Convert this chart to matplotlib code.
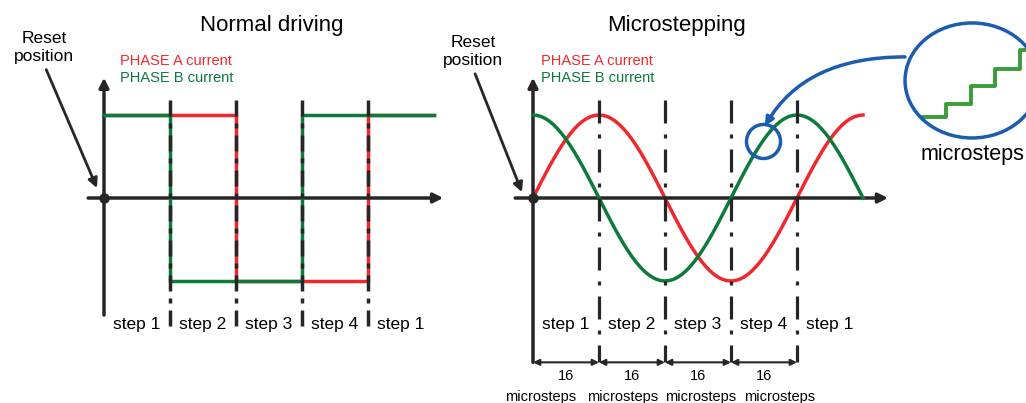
import numpy as np
import matplotlib
matplotlib.use("Agg")
import matplotlib.pyplot as plt
from matplotlib.patches import Ellipse

# -----------------------------
# Data
# -----------------------------
step_labels = ["step 1", "step 2", "step 3", "step 4", "step 1"]

# full-step driving: current level of each phase in each step
phase_a_full = [1, 1, -1, -1, 1]
phase_b_full = [1, -1, -1, 1, 1]

# one quarter wave of the microstep table (16 microsteps per step)
quarter_wave = [0.0, 0.098, 0.195, 0.290, 0.383, 0.471, 0.556, 0.634, 0.707,
                0.773, 0.831, 0.882, 0.924, 0.957, 0.981, 0.995, 1.0]
microsteps_per_step = 16
# sign and direction of each step's quarter wave
phase_a_segments = [(1, "rise"), (1, "fall"), (-1, "rise"), (-1, "fall"), (1, "rise")]
phase_b_segments = [(1, "fall"), (-1, "rise"), (-1, "fall"), (1, "rise"), (1, "fall")]

micro_count_labels = ["16", "16", "16", "16"]
micro_word_offsets = [-0.39, -0.14, 0.045, 0.24]   # text shifted as in the picture

# magnified staircase inside the zoom circle
zoom_stair_levels = [0.976, 1.133, 1.35, 1.554, 1.783, 2.01]

# -----------------------------
# Style
# -----------------------------
RED = "#f0282d"
GREEN = "#0b7a3b"
STAIR_GREEN = "#3a9c3a"
BLUE = "#1a5cb0"
AXC = "#262626"

plt.rcParams["font.family"] = ["Liberation Sans", "DejaVu Sans"]
plt.rcParams["lines.scale_dashes"] = False

W, H = 1026, 403
PX, PY = 66.0, 83.0          # pixels per step / per unit of current
OY = 198                     # x-axis row (pixels from top)

fig = plt.figure(figsize=(W / 100, H / 100), dpi=100)


def panel(ox):
    ax = fig.add_axes([0, 0, 1, 1])
    ax.set_xlim(-ox / PX, (W - ox) / PX)
    ax.set_ylim(-(H - OY) / PY, OY / PY)
    ax.axis("off")
    ax.patch.set_alpha(0)
    return ax


def arrow(ax, start, end, lw=2.5, color=AXC, style="-|>", ms=14, **kw):
    ax.annotate("", xy=end, xytext=start,
                arrowprops=dict(arrowstyle=style, color=color, lw=lw,
                                shrinkA=0, shrinkB=0, mutation_scale=ms, **kw))


def px(v):
    return v * 0.72


def build(segments):
    q = np.array(quarter_wave)
    out = []
    for i, (sign, kind) in enumerate(segments):
        seg = sign * (q if kind == "rise" else q[::-1])
        out.extend(seg if i == 0 else seg[1:])
    return np.array(out)


# -----------------------------
# Left panel: normal driving
# -----------------------------
axL = panel(104)
edges = np.arange(len(phase_a_full) + 1)

arrow(axL, (0, -1.41), (0, 1.45))
arrow(axL, (-0.24, 0), (5.14, 0))
axL.plot([0], [0], "o", color=AXC, ms=6.5, zorder=6)

axL.plot(edges, phase_a_full + [phase_a_full[-1]], drawstyle="steps-post",
         color=RED, lw=2.5, zorder=2)
axL.plot(edges, phase_b_full + [phase_b_full[-1]], drawstyle="steps-post",
         color=GREEN, lw=2.5, zorder=3)
axL.vlines(edges[1:-1], 1.18, -1.55, colors=AXC, lw=2.5, zorder=4,
           linestyles=[(0, (px(16), px(7), px(5), px(7)))])

for i, lab in enumerate(step_labels):
    axL.text(i + 0.5, -1.53, lab, ha="center", va="center", fontsize=12.5)

axL.text(2.545, 2.084, "Normal driving", ha="center", va="center", fontsize=16)
axL.text(0.242, 1.65, "PHASE A current", color=RED, ha="left", va="center", fontsize=10.5)
axL.text(0.242, 1.446, "PHASE B current", color=GREEN, ha="left", va="center", fontsize=10.5)
axL.annotate("Reset\nposition", xy=(-0.106, 0.12), xytext=(-0.91, 1.81),
             ha="center", va="center", fontsize=12.5, linespacing=1.25,
             arrowprops=dict(arrowstyle="-|>", color=AXC, lw=2, shrinkA=2, shrinkB=0,
                             mutation_scale=14, relpos=(0.5, 0)))

# -----------------------------
# Right panel: microstepping
# -----------------------------
axR = panel(533)
a_micro = build(phase_a_segments)
b_micro = build(phase_b_segments)
x_micro = np.arange(len(a_micro)) / microsteps_per_step

arrow(axR, (0, -1.98), (0, 1.45))
arrow(axR, (-0.27, 0), (5.38, 0))
axR.plot([0], [0], "o", color=AXC, ms=6.5, zorder=6)

axR.plot(x_micro, a_micro, color=RED, lw=2.5, zorder=2)
axR.plot(x_micro, b_micro, color=GREEN, lw=2.5, zorder=3)
axR.vlines(edges[1:-1], 1.18, -1.98, colors=AXC, lw=2.3, zorder=4,
           linestyles=[(0, (px(23), px(11), px(4), px(11)))])

for i, lab in enumerate(step_labels):
    axR.text(i + 0.5, -1.53, lab, ha="center", va="center", fontsize=12.5)

for i, lab in enumerate(micro_count_labels):
    arrow(axR, (i, -1.98), (i + 1, -1.98), lw=1.5, style="<|-|>", ms=9)
    axR.text(i + 0.5, -2.145, lab, ha="center", va="center", fontsize=10.5)
    axR.text(i + 0.5 + micro_word_offsets[i], -2.40, "microsteps",
             ha="center", va="center", fontsize=10.5)

axR.text(2.167, 2.084, "Microstepping", ha="center", va="center", fontsize=16)
axR.text(0.121, 1.65, "PHASE A current", color=RED, ha="left", va="center", fontsize=10.5)
axR.text(0.121, 1.446, "PHASE B current", color=GREEN, ha="left", va="center", fontsize=10.5)
axR.annotate("Reset\nposition", xy=(-0.167, 0.07), xytext=(-0.91, 1.76),
             ha="center", va="center", fontsize=12.5, linespacing=1.25,
             arrowprops=dict(arrowstyle="-|>", color=AXC, lw=2, shrinkA=2, shrinkB=0,
                             mutation_scale=14, relpos=(0.5, 0)))

# zoom marker on the green curve
axR.plot([3.48], [np.interp(3.48, x_micro, b_micro)], "o", ms=px(34),
         mfc="none", mec=BLUE, mew=2.5, zorder=5)

# magnified view
zoom = Ellipse((6.652, 1.416), 134 / PX, 115 / PY, fill=False, ec=BLUE, lw=2.5, zorder=5)
axR.add_patch(zoom)
stair_x = 5.894 + 0.371 * np.arange(len(zoom_stair_levels) + 1)
stairs, = axR.plot(stair_x, zoom_stair_levels + [zoom_stair_levels[-1]],
                   drawstyle="steps-post", color=STAIR_GREEN, lw=2.8, zorder=4)
stairs.set_clip_path(zoom)
axR.text(5.87, 0.52, "microsteps", ha="left", va="center", fontsize=15.5)

arrow(axR, (5.636, 1.70), (3.515, 0.867), lw=2.5, color=BLUE, ms=12,
      connectionstyle="angle3,angleA=0,angleB=60")

fig.savefig("out.png", dpi=100, facecolor="white")
